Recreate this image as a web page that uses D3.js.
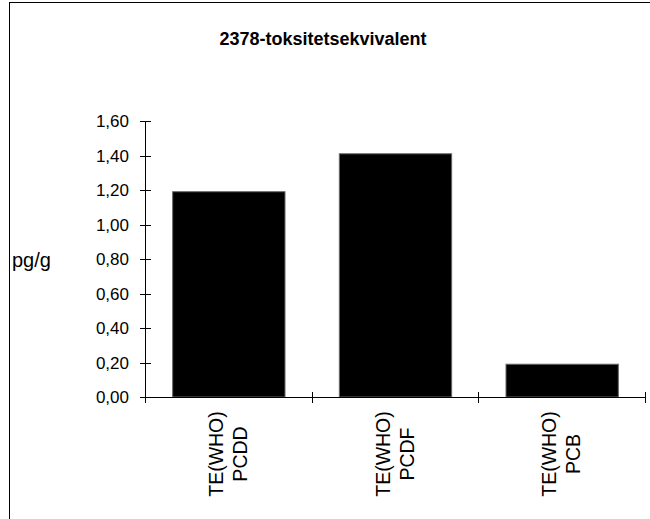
<!DOCTYPE html>
<html>
<head>
<meta charset="utf-8">
<script src="https://cdn.jsdelivr.net/npm/d3@7"></script>
<style>
  html, body { margin: 0; padding: 0; background: #fff; }
  svg { display: block; }
  text { font-family: Arial, "Liberation Sans", sans-serif; fill: #000; }
</style>
</head>
<body>
<svg id="chart" width="650" height="519"></svg>
<script>
// Data
const title = "2378-toksitetsekvivalent";
const yLabel = "pg/g";
const categories = [["TE(WHO)", "PCDD"], ["TE(WHO)", "PCDF"], ["TE(WHO)", "PCB"]];
const values = [1.19, 1.41, 0.19];
const yTicks = [0, 0.2, 0.4, 0.6, 0.8, 1.0, 1.2, 1.4, 1.6];

(function () {
const svg = d3.select("#chart");

// outer frame (extends past the window on right and bottom)
svg.append("rect")
  .attr("x", 9.5).attr("y", 2.5)
  .attr("width", 700).attr("height", 600)
  .attr("fill", "none").attr("stroke", "#000").attr("stroke-width", 1);

const pLeft = 145.5, pRight = 645.5, pTop = 121, pBottom = 397;

const keys = categories.map((c, i) => "c" + i);
const x = d3.scaleBand().domain(keys).range([pLeft, pRight])
  .paddingInner(0.326).paddingOuter(0.163);
const y = d3.scaleLinear().domain([0, 1.6]).range([pBottom, pTop]);

// title
svg.append("text")
  .attr("x", 323).attr("y", 45)
  .attr("text-anchor", "middle")
  .style("font-size", "18px").style("font-weight", "bold")
  .text(title);

// bars
svg.append("g").selectAll("rect")
  .data(values)
  .join("rect")
  .attr("x", (d, i) => x(keys[i]))
  .attr("y", d => y(d))
  .attr("width", x.bandwidth())
  .attr("height", d => pBottom - y(d))
  .attr("fill", "#000")
  .attr("stroke", "#666")
  .attr("stroke-width", 1);

// y axis
svg.append("line")
  .attr("x1", pLeft).attr("x2", pLeft)
  .attr("y1", y(1.6)).attr("y2", pBottom)
  .attr("stroke", "#000");
const yt = svg.append("g").selectAll("g").data(yTicks).join("g")
  .attr("transform", d => `translate(0,${Math.round(y(d)) + 0.5})`);
yt.append("line").attr("x1", 140).attr("x2", 151).attr("stroke", "#000");
yt.append("text")
  .attr("x", 129).attr("dy", "0.35em")
  .attr("text-anchor", "end")
  .style("font-size", "17px")
  .text(d => d3.format(".2f")(d).replace(".", ","));

// y label
svg.append("text")
  .attr("x", 12).attr("y", 267)
  .style("font-size", "20px")
  .text(yLabel);

// x axis
svg.append("line")
  .attr("x1", pLeft).attr("x2", pRight)
  .attr("y1", pBottom + 0.5).attr("y2", pBottom + 0.5)
  .attr("stroke", "#000");
const step = x.step();
const xb = d3.range(keys.length + 1).map(i => pLeft + i * step);
svg.append("g").selectAll("line").data(xb).join("line")
  .attr("x1", d => Math.round(d - 0.5) + 0.5).attr("x2", d => Math.round(d - 0.5) + 0.5)
  .attr("y1", pBottom - 5).attr("y2", pBottom + 6)
  .attr("stroke", "#000");

// category labels (rotated, two lines)
const cl = svg.append("g").selectAll("g").data(categories).join("g")
  .attr("transform", (d, i) => `translate(${x(keys[i]) + x.bandwidth() / 2},454) rotate(-90)`);
cl.each(function(d) {
  const t = d3.select(this).append("text")
    .attr("text-anchor", "middle")
    .style("font-size", "19.5px");
  t.append("tspan").attr("x", 0).attr("y", -6).text(d[0]);
  t.append("tspan").attr("x", 0).attr("y", 18).text(d[1]);
});
})();
</script>
</body>
</html>
